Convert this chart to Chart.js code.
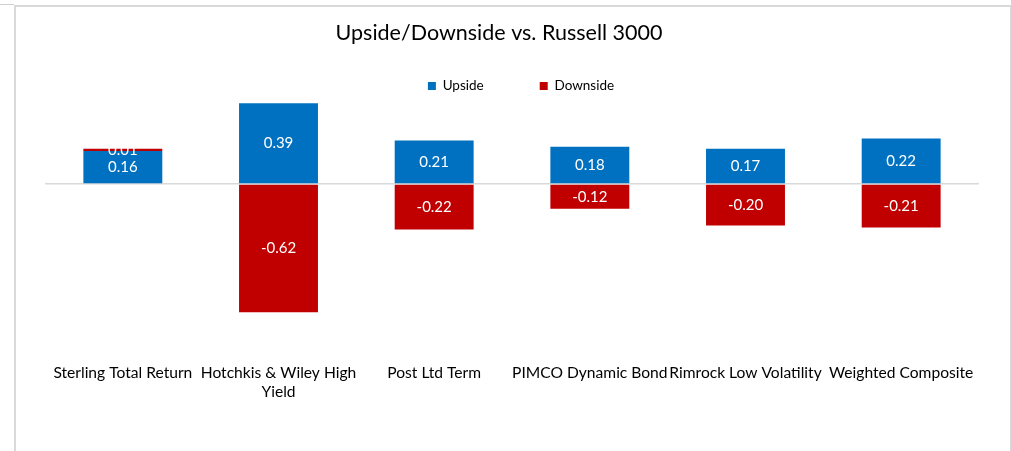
<!DOCTYPE html>
<html>
<head>
<meta charset="utf-8">
<script src="https://cdn.jsdelivr.net/npm/chart.js@4.4.1/dist/chart.umd.min.js"></script>
<style>
  html, body { margin: 0; padding: 0; background: #fff; }
  #wrap { position: relative; width: 1011px; height: 451px; overflow: hidden; }
  #frame { position: absolute; left: 14px; top: 5px; width: 994px; height: 460px;
           border-left: 2px solid #d9d9d9; border-top: 2px solid #d9d9d9; border-right: 2px solid #d9d9d9; }
  #stub { position: absolute; left: 0; top: 4px; width: 14px; height: 0; border-top: 1px solid #d0d0d0; }
  canvas { position: absolute; left: 0; top: 0; }
</style>
</head>
<body>
<div id="wrap">
  <div id="stub"></div>
  <div id="frame"></div>
  <canvas id="c" width="1011" height="451"></canvas>
</div>
<script>
const chartTitle = "Upside/Downside vs. Russell 3000";
const seriesNames = ["Upside", "Downside"];
const categories = ["Sterling Total Return", "Hotchkis & Wiley High Yield", "Post Ltd Term",
                    "PIMCO Dynamic Bond", "Rimrock Low Volatility", "Weighted Composite"];
const tickLabels = ["Sterling Total Return", ["Hotchkis & Wiley High", "Yield"], "Post Ltd Term",
                    "PIMCO Dynamic Bond", "Rimrock Low Volatility", "Weighted Composite"];
const upside = [0.16, 0.39, 0.21, 0.18, 0.17, 0.22];
const downside = [0.01, -0.62, -0.22, -0.12, -0.20, -0.21];

const FONT = "Lato, 'Open Sans', sans-serif";

const valueLabels = {
  id: 'valueLabels',
  afterDatasetsDraw(chart) {
    const ctx = chart.ctx;
    ctx.save();
    ctx.font = "15px " + FONT;
    ctx.fillStyle = '#ffffff';
    ctx.textAlign = 'center';
    ctx.textBaseline = 'middle';
    chart.data.datasets.forEach((ds, i) => {
      chart.getDatasetMeta(i).data.forEach((bar, j) => {
        const v = ds.data[j];
        ctx.fillText(v.toFixed(2), bar.x, (bar.y + bar.base) / 2);
      });
    });
    ctx.restore();
  }
};

const chartHeading = {
  id: 'chartHeading',
  afterDraw(chart) {
    const ctx = chart.ctx;
    ctx.save();
    ctx.font = "21.5px " + FONT;
    ctx.fillStyle = '#000';
    ctx.textAlign = 'center';
    ctx.textBaseline = 'middle';
    ctx.fillText(chartTitle, 499, 33);
    ctx.restore();
  }
};

new Chart(document.getElementById('c'), {
  type: 'bar',
  data: {
    labels: tickLabels,
    datasets: [
      { label: seriesNames[0], data: upside, backgroundColor: '#0070C0', clip: false },
      { label: seriesNames[1], data: downside, backgroundColor: '#C00000', clip: false }
    ]
  },
  options: {
    responsive: false,
    animation: false,
    layout: { padding: { left: 31, right: 0, top: 23.25, bottom: 0 } },
    datasets: { bar: { categoryPercentage: 0.507, barPercentage: 1.0 } },
    plugins: {
      title: { display: false },
      legend: {
        display: true,
        position: 'top',
        labels: {
          color: '#000',
          font: { family: FONT, size: 13.5 },
          boxWidth: 8,
          boxHeight: 8,
          padding: 56
        }
      },
      tooltip: { enabled: false }
    },
    scales: {
      x: {
        stacked: true,
        grid: { display: false },
        border: { display: false },
        ticks: {
          color: '#000',
          font: { family: FONT, size: 15.6 },
          maxRotation: 0,
          autoSkip: false,
          padding: 6
        },
        afterFit(s) { s.height = 101.4; }
      },
      y: {
        stacked: true,
        min: -0.8,
        max: 0.3925,
        ticks: { display: false, stepSize: 0.2 },
        border: { display: false },
        grid: {
          drawTicks: false,
          lineWidth: 1.5,
          color: (c) => (c.tick && Math.abs(c.tick.value) < 1e-9) ? '#d9d9d9' : 'rgba(0,0,0,0)'
        },
        afterFit(s) { s.width = 14; }
      },
      yRight: {
        position: 'right',
        min: 0,
        max: 1,
        ticks: { display: false },
        border: { display: false },
        grid: { display: false, drawTicks: false },
        afterFit(s) { s.width = 32; }
      }
    }
  },
  plugins: [valueLabels, chartHeading]
});
</script>
</body>
</html>
